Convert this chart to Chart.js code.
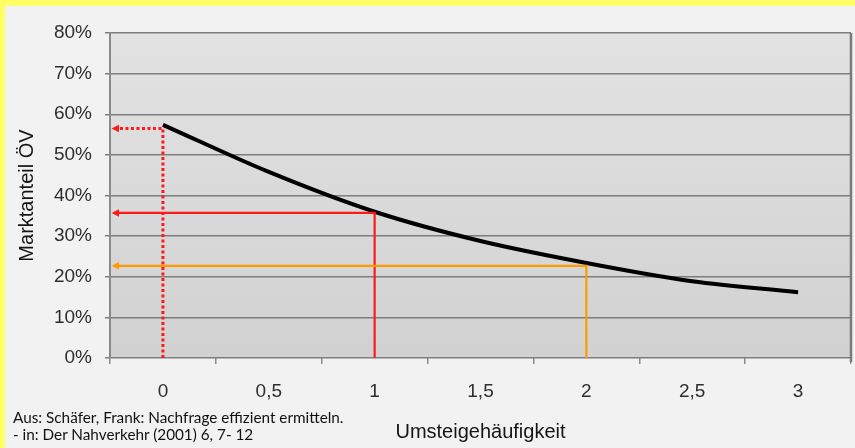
<!DOCTYPE html>
<html>
<head>
<meta charset="utf-8">
<script src="https://cdn.jsdelivr.net/npm/chart.js@4"></script>
<style>
html,body{margin:0;padding:0;}
body{width:855px;height:448px;background:#f2f2f2;position:relative;overflow:hidden;}
#topbar{position:absolute;left:0;top:0;width:855px;height:6px;background:#ffff66;}
#leftbar{position:absolute;left:0;top:0;width:5px;height:448px;background:#ffff66;}
#chart{position:absolute;left:0;top:0;}
#source{position:absolute;left:13px;top:409px;font-family:Lato,"Open Sans",sans-serif;font-size:15.3px;line-height:17px;color:#111;white-space:nowrap;}
</style>
</head>
<body>
<div id="topbar"></div>
<div id="leftbar"></div>
<canvas id="chart" width="855" height="448"></canvas>
<div id="source">Aus: Schäfer, Frank: Nachfrage effizient ermitteln.<br>- in: Der Nahverkehr (2001) 6, 7- 12</div>
<script>
// ---- data ----
const xLabels = ['0', '0,5', '1', '1,5', '2', '2,5', '3'];
const shareValues = [57.4, 45.8, 36.0, 28.8, 23.4, 18.9, 16.2];
const guideIndices = [0, 2, 4];
const guideValues = [56.5, 35.7, 22.7];
const yTitle = 'Marktanteil ÖV';
const xTitle = 'Umsteigehäufigkeit';

// ---- styles ----
const guideStyles = [
  {color: '#ff1a1a', dash: [3, 2.5], width: 3},
  {color: '#ff1a1a', dash: [], width: 2.2},
  {color: '#ff9a00', dash: [], width: 2.2}
];

const decor = {
  id: 'decor',
  beforeDraw(chart) {
    const {ctx, chartArea: a} = chart;
    const g = ctx.createLinearGradient(0, a.top, 0, a.bottom);
    g.addColorStop(0, '#e3e3e3');
    g.addColorStop(1, '#d1d1d1');
    ctx.save();
    ctx.fillStyle = g;
    ctx.fillRect(a.left, a.top, a.right - a.left, a.bottom - a.top);
    ctx.restore();
  },
  beforeDatasetsDraw(chart) {
    const {ctx, chartArea: a} = chart;
    ctx.save();
    ctx.strokeStyle = '#7a7a7a';
    ctx.lineWidth = 2.5;
    ctx.beginPath();
    ctx.moveTo(a.right, a.top);
    ctx.lineTo(a.right, a.bottom + 4);
    ctx.stroke();
    ctx.restore();
  },
  afterDatasetsDraw(chart) {
    const {ctx, chartArea: a, scales: {x, y}} = chart;
    ctx.save();
    guideIndices.forEach((gi, i) => {
      const st = guideStyles[i];
      const px = x.getPixelForValue(gi);
      const py = y.getPixelForValue(guideValues[i]);
      ctx.strokeStyle = st.color;
      ctx.fillStyle = st.color;
      ctx.lineWidth = st.width;
      ctx.setLineDash(st.dash);
      ctx.lineJoin = 'miter';
      ctx.beginPath();
      ctx.moveTo(px, a.bottom);
      ctx.lineTo(px, py);
      ctx.lineTo(a.left + 7, py);
      ctx.stroke();
      ctx.setLineDash([]);
      ctx.beginPath();
      ctx.moveTo(a.left + 1.5, py);
      ctx.lineTo(a.left + 9, py - 3.8);
      ctx.lineTo(a.left + 9, py + 3.8);
      ctx.closePath();
      ctx.fill();
    });
    ctx.restore();
  }
};

new Chart(document.getElementById('chart'), {
  type: 'line',
  data: {
    labels: xLabels,
    datasets: [{
      data: shareValues,
      borderColor: '#000000',
      borderWidth: 4,
      borderCapStyle: 'butt',
      pointRadius: 0,
      cubicInterpolationMode: 'monotone',
      fill: false
    }]
  },
  options: {
    responsive: false,
    animation: false,
    devicePixelRatio: 1,
    layout: {padding: {top: 33, right: 4, bottom: 0, left: 0}},
    plugins: {legend: {display: false}, tooltip: {enabled: false}},
    scales: {
      x: {
        type: 'category',
        offset: true,
        afterFit: s => { s.height = 90; },
        grid: {offset: true, drawOnChartArea: false, drawTicks: true, tickLength: 6, color: '#8a8a8a', lineWidth: 1.5},
        border: {display: false},
        ticks: {font: {family: '"Liberation Sans", Arial, sans-serif', size: 19}, color: '#2e2e2e', padding: 16},
        title: {display: true, text: xTitle, font: {family: '"Liberation Sans", Arial, sans-serif', size: 20}, color: '#151515', padding: {top: 0, bottom: 4}}
      },
      y: {
        min: 0, max: 80,
        afterFit: s => { s.width = 110; },
        grid: {color: '#7d7d7d', lineWidth: 1.5, tickLength: 5},
        border: {display: true, color: '#8a8a8a', width: 2},
        ticks: {stepSize: 10, callback: v => v + '%', font: {family: '"Liberation Sans", Arial, sans-serif', size: 19}, color: '#2e2e2e', padding: 13},
        title: {display: true, text: yTitle, font: {family: '"Liberation Sans", Arial, sans-serif', size: 20}, color: '#151515', padding: {top: 15, bottom: 0}}
      }
    }
  },
  plugins: [decor]
});
</script>
</body>
</html>
